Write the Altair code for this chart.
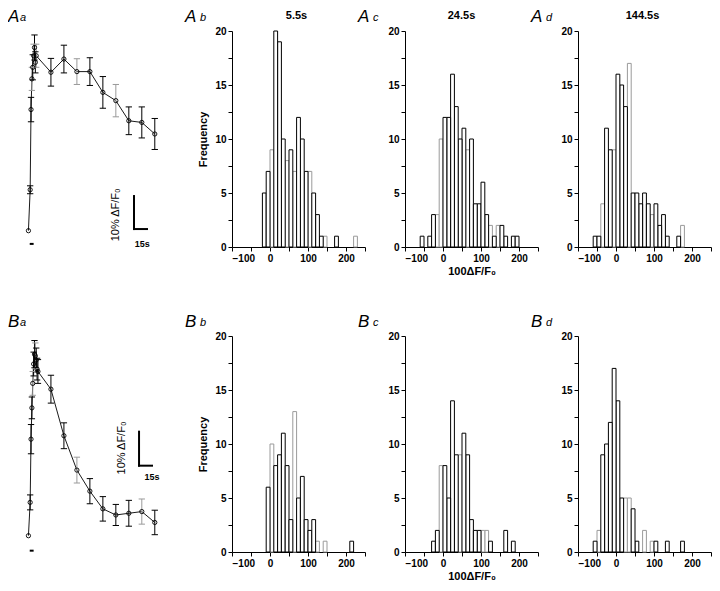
import altair as alt
import pandas as pd

FONT = "Liberation Sans"
BLACK = "#000000"
GRAY = "#9a9a9a"

# ---------------- time courses (t in s, value in % dF/F0, half error bar) ----------------
A_T = [-1.5, 0.5, 1.5, 2.5, 3.5, 4.5, 5.5, 6.5, 7.5, 24.5, 39.5, 54.5, 69.5, 84.5, 99.5, 114.5, 129.5, 144.5]
A_V = [0, 12.4, 36.7, 46, 49.5, 53, 55.5, 51, 53, 48, 52, 48.2, 48.2, 41.9, 39.4, 33.3, 32.8, 29.3]
A_E = [0, 1.2, 3.7, 3.5, 3.8, 3.5, 3.8, 3.2, 3.5, 4.2, 4.2, 3.9, 4.2, 4.8, 4.9, 4.2, 4.7, 4.7]
A_EC = ["k", "k", "k", "g", "k", "g", "k", "k", "g", "k", "k", "g", "k", "k", "g", "k", "k", "k"]

B_T = [-1.5, 0.5, 1.5, 2.5, 3.5, 4.5, 5.5, 6.5, 7.5, 8.5, 9.5, 24.5, 39.5, 54.5, 69.5, 84.5, 99.5, 114.5, 129.5, 144.5]
B_V = [0, 9.8, 28.4, 37.6, 44.8, 50.5, 53.4, 52.9, 51.7, 49, 48.3, 43.1, 29.4, 19.3, 13.1, 7.9, 6.1, 6.6, 7.1, 3.9]
B_E = [0, 2.2, 4.3, 3.2, 3.5, 3.5, 4.0, 3.8, 3.5, 3.2, 3.5, 4.1, 3.8, 3.8, 3.7, 3.6, 3.1, 3.8, 3.7, 3.6]
B_EC = ["k", "k", "k", "k", "g", "k", "k", "g", "k", "k", "k", "k", "k", "g", "k", "k", "k", "k", "g", "k"]

T_DOMAIN = [-2, 187.5]
A_YDOM = [-4.94, 60.5]
B_YDOM = [-4.79, 58.74]

SCALE_T = 15      # s
SCALE_V = 10      # % dF/F0
A_BAR = (120.5, 0.5)
B_BAR = (126.3, 20.6)
A_BARLAB = (99.7, 4.8)
B_BARLAB = (106.7, 25.8)
A_SLAB = (130.0, -4.0)
B_SLAB = (141.3, 17.3)
STIM = (0.0, 4.5)
A_STIM_V = -4.0
B_STIM_V = -4.4

# ---------------- histograms (bin left edge, bin width 10) ----------------
BIN = 10
AB_L = list(range(-20, 230, 10))
AB_N = [5, 7, 9, 20, 19, 10, 8, 9, 7, 12, 10, 7, 7, 5, 3, 1, 1, 0, 0, 1, 0, 0, 0, 0, 1]
AB_G = [0, 40, 60, 100, 140, 220]

AC_L = list(range(-60, 200, 10))
AC_N = [1, 0, 1, 3, 3, 10, 12, 12, 16, 13, 10, 11, 9, 10, 4, 4, 6, 3, 2, 1, 2, 2, 1, 0, 1, 1]
AC_G = [-20, -10, 60, 120, 140]

AD_L = list(range(-60, 180, 10))
AD_N = [1, 1, 4, 11, 9, 9, 16, 15, 13, 17, 5, 5, 4, 5, 4, 3, 4, 2, 3, 1, 0, 0, 1, 2]
AD_G = [-40, -10, 30, 90, 170]

BB_L = list(range(-10, 220, 10))
BB_N = [6, 10, 8, 9, 11, 8, 3, 13, 5, 7, 3, 2, 3, 1, 0, 1, 0, 0, 0, 0, 0, 0, 1]
BB_G = [0, 60, 120, 140]

BC_L = list(range(-30, 190, 10))
BC_N = [1, 2, 8, 8, 5, 14, 9, 9, 11, 9, 3, 2, 2, 2, 2, 1, 0, 0, 0, 2, 0, 1]
BC_G = [-10, 40, 100, 110]

BD_L = list(range(-60, 180, 10))
BD_N = [1, 2, 9, 10, 12, 17, 14, 5, 5, 5, 4, 1, 0, 2, 0, 1, 1, 0, 0, 1, 0, 0, 0, 1]
BD_G = [-50, 20, 30, 70, 90]

X_DOMAIN = [-100, 250]
X_TICKS = [-100, -50, 0, 50, 100, 150, 200, 250]
Y_TICKS = [0, 2.5, 5, 7.5, 10, 12.5, 15, 17.5, 20]
TITLES = ["5.5s", "24.5s", "144.5s"]
TITLE_DX = [-2, -10, -2]
Y_TITLE = "Frequency"
X_TITLE = "100ΔF/F₀"
BAR_TEXT = "10% ΔF/F₀"
S_TEXT = "15s"

HIST_W, HIST_H = 133, 216
TIME_W = 164
LABEL_DY = -14
TITLE_DY = -15


def panel_label(big, small, dx_big, dx_small, dy):
    lab = pd.DataFrame({"s": [big]})
    a = alt.Chart(lab).mark_text(font=FONT, fontSize=17, fontStyle="italic", align="left",
                                 baseline="middle", color="black").encode(
        text="s:N", x=alt.value(dx_big), y=alt.value(dy))
    lab2 = pd.DataFrame({"s": [small]})
    b = alt.Chart(lab2).mark_text(font=FONT, fontSize=11, fontStyle="italic", align="left",
                                  baseline="middle", color="black").encode(
        text="s:N", x=alt.value(dx_small), y=alt.value(dy + 1))
    return [a, b]


def time_panel(T, V, E, EC, ydom, bar, barlab, slab, stim_v, letters):
    df = pd.DataFrame({"t": T, "v": V, "e": E, "c": [GRAY if c == "g" else BLACK for c in EC]})
    df["lo"] = df["v"] - df["e"]
    df["hi"] = df["v"] + df["e"]
    xs = alt.Scale(domain=T_DOMAIN, nice=False, zero=False)
    ys = alt.Scale(domain=ydom, nice=False, zero=False)
    X = alt.X("t:Q", scale=xs, axis=None)
    base = alt.Chart(df)
    line = base.mark_line(color="black", strokeWidth=0.9).encode(X, alt.Y("v:Q", scale=ys, axis=None))
    eb = base.transform_filter("datum.e > 0")
    rules = eb.mark_rule(strokeWidth=1).encode(
        X, alt.Y("lo:Q", scale=ys, axis=None), alt.Y2("hi:Q"), alt.Color("c:N", scale=None))
    caplo = eb.mark_point(shape="M-1,0L1,0", size=40, strokeWidth=1, filled=False, opacity=1).encode(
        X, alt.Y("lo:Q", scale=ys, axis=None), alt.Color("c:N", scale=None))
    caphi = eb.mark_point(shape="M-1,0L1,0", size=40, strokeWidth=1, filled=False, opacity=1).encode(
        X, alt.Y("hi:Q", scale=ys, axis=None), alt.Color("c:N", scale=None))
    pts = base.mark_point(shape="circle", size=18, filled=False, color="black", strokeWidth=0.9,
                          opacity=1).encode(X, alt.Y("v:Q", scale=ys, axis=None))

    bx, by = bar
    sb = pd.DataFrame({"t": [bx, bx], "t2": [bx, bx + SCALE_T], "v": [by, by], "v2": [by + SCALE_V, by]})
    sbar = alt.Chart(sb).mark_rule(strokeWidth=2, color="black", strokeCap="square").encode(
        alt.X("t:Q", scale=xs, axis=None), alt.X2("t2:Q"),
        alt.Y("v:Q", scale=ys, axis=None), alt.Y2("v2:Q"))
    st = pd.DataFrame({"t": [STIM[0]], "t2": [STIM[1]], "v": [stim_v]})
    stim = alt.Chart(st).mark_rule(strokeWidth=2, color="black").encode(
        alt.X("t:Q", scale=xs, axis=None), alt.X2("t2:Q"), alt.Y("v:Q", scale=ys, axis=None))
    bl = pd.DataFrame({"t": [barlab[0]], "v": [barlab[1]], "s": [BAR_TEXT]})
    btxt = alt.Chart(bl).mark_text(font=FONT, fontSize=11, angle=270, color="black").encode(
        alt.X("t:Q", scale=xs, axis=None), alt.Y("v:Q", scale=ys, axis=None), text="s:N")
    sl = pd.DataFrame({"t": [slab[0]], "v": [slab[1]], "s": [S_TEXT]})
    stxt = alt.Chart(sl).mark_text(font=FONT, fontSize=9, fontWeight="bold", color="black").encode(
        alt.X("t:Q", scale=xs, axis=None), alt.Y("v:Q", scale=ys, axis=None), text="s:N")
    labs = panel_label(letters[0], letters[1], -20, -8, LABEL_DY)
    return alt.layer(line, rules, caplo, caphi, pts, sbar, stim, btxt, stxt, *labs).properties(
        width=TIME_W, height=HIST_H)


def hist_panel(lefts, counts, grays, letters, title=None, title_dx=0, ytitle=None, xtitle=None):
    df = pd.DataFrame({"l": lefts, "n": counts})
    df["r"] = df["l"] + BIN
    df["s"] = [GRAY if l in grays else BLACK for l in df["l"]]
    df = df[df["n"] > 0].sort_values("s", ascending=False)
    xaxis = alt.Axis(values=X_TICKS, labelExpr="datum.value % 100 === 0 ? datum.label : ''",
                     labelOverlap=False, title=xtitle if xtitle else None, titlePadding=2)
    yaxis = alt.Axis(values=Y_TICKS, labelExpr="datum.value % 5 === 0 ? datum.label : ''",
                     labelOverlap=False, title=ytitle if ytitle else None, titlePadding=6)
    bars = alt.Chart(df).mark_bar(fill="white", strokeWidth=1).encode(
        x=alt.X("l:Q", scale=alt.Scale(domain=X_DOMAIN, nice=False, zero=False), axis=xaxis),
        x2="r:Q",
        y=alt.Y("n:Q", scale=alt.Scale(domain=[0, 20], nice=False), axis=yaxis),
        y2=alt.datum(0),
        stroke=alt.Color("s:N", scale=None),
    )
    layers = [bars] + panel_label(letters[0], letters[1], -47, -32, LABEL_DY)
    if title:
        tdf = pd.DataFrame({"s": [title]})
        layers.append(alt.Chart(tdf).mark_text(font=FONT, fontSize=11, fontWeight="bold",
                                               baseline="middle", color="black").encode(
            text="s:N", x=alt.value(HIST_W / 2 + title_dx), y=alt.value(TITLE_DY)))
    return alt.layer(*layers).properties(width=HIST_W, height=HIST_H)


panels = [
    time_panel(A_T, A_V, A_E, A_EC, A_YDOM, A_BAR, A_BARLAB, A_SLAB, A_STIM_V, ("A", "a")),
    hist_panel(AB_L, AB_N, AB_G, ("A", "b"), title=TITLES[0], title_dx=TITLE_DX[0], ytitle=Y_TITLE),
    hist_panel(AC_L, AC_N, AC_G, ("A", "c"), title=TITLES[1], title_dx=TITLE_DX[1], xtitle=X_TITLE),
    hist_panel(AD_L, AD_N, AD_G, ("A", "d"), title=TITLES[2], title_dx=TITLE_DX[2]),
    time_panel(B_T, B_V, B_E, B_EC, B_YDOM, B_BAR, B_BARLAB, B_SLAB, B_STIM_V, ("B", "a")),
    hist_panel(BB_L, BB_N, BB_G, ("B", "b"), ytitle=Y_TITLE),
    hist_panel(BC_L, BC_N, BC_G, ("B", "c"), xtitle=X_TITLE),
    hist_panel(BD_L, BD_N, BD_G, ("B", "d")),
]

chart = alt.concat(*panels, columns=4, spacing={"row": 89, "column": 40}, bounds="flush").properties(
    padding=0, background="white"
).configure_view(stroke=None).configure_axis(
    domainColor="black", tickColor="black", labelColor="black", titleColor="black",
    labelFont=FONT, labelFontWeight="bold", labelFontSize=10,
    titleFont=FONT, titleFontWeight="bold", titleFontSize=11,
    grid=False, tickSize=4, domainWidth=1, tickWidth=1, labelPadding=2,
)

chart.save("out.html", embed_options={"renderer": "svg", "actions": False})
